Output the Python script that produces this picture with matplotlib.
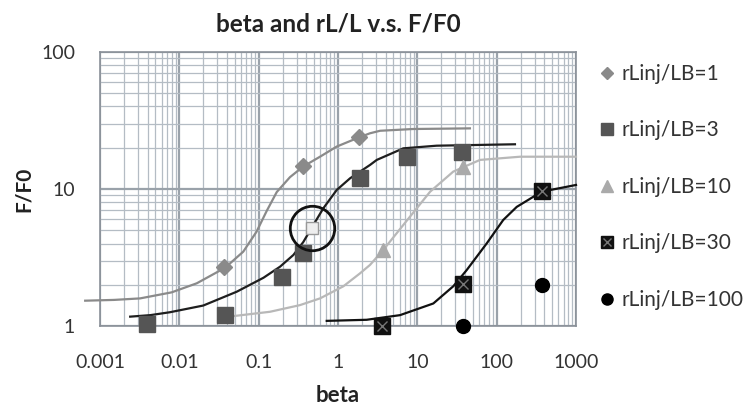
import matplotlib
matplotlib.use('Agg')
import matplotlib.pyplot as plt
from matplotlib.legend_handler import HandlerTuple

plt.rcParams['font.family'] = ['Lato', 'DejaVu Sans']

# trendlines
c1_x = [0.00065, 0.0015, 0.0032, 0.008, 0.0166, 0.0377, 0.064, 0.094, 0.126, 0.169, 0.248, 0.365, 0.593, 0.964, 1.84, 2.53, 3.39, 8.8, 46]
c1_y = [1.53, 1.55, 1.59, 1.76, 2.05, 2.66, 3.49, 4.88, 6.9, 9.5, 12.2, 14.6, 17.2, 20.4, 23.8, 25.5, 26.6, 27.4, 27.7]
c2_x = [0.0024, 0.0043, 0.0076, 0.020, 0.053, 0.115, 0.186, 0.274, 0.365, 0.489, 0.653, 0.964, 1.42, 2.53, 3.08, 6.65, 17.5, 170]
c2_y = [1.17, 1.20, 1.26, 1.41, 1.78, 2.25, 2.71, 3.30, 4.10, 5.46, 7.23, 9.84, 11.97, 14.97, 16.3, 19.8, 20.7, 21.2]
c3_x = [0.037, 0.139, 0.331, 0.593, 1.17, 1.89, 2.53, 3.72, 6.65, 14.5, 28.4, 61.7, 197, 1000]
c3_y = [1.16, 1.27, 1.42, 1.59, 1.95, 2.42, 2.79, 3.59, 5.46, 9.56, 13.4, 16.3, 17.2, 17.2]
c4_x = [0.721, 2.30, 6.05, 15.9, 28.4, 41.9, 75, 121, 179, 370, 1000]
c4_y = [1.09, 1.11, 1.20, 1.46, 1.95, 2.56, 4.01, 5.94, 7.4, 9.56, 10.7]

# measured points
s1_x = [0.037, 0.366, 1.84]
s1_y = [2.68, 14.7, 24.1]
s2_x = [0.0039, 0.038, 0.195, 0.365, 1.89, 7.35, 36.3]
s2_y = [1.03, 1.20, 2.29, 3.39, 11.97, 17.2, 18.5]
s3_x = [3.72, 37.3]
s3_y = [3.59, 14.5]
s4_x = [3.56, 37.3, 370]
s4_y = [1.0, 2.01, 9.67]
s5_x = [37.3, 370]
s5_y = [1.0, 2.0]
hollow_x = [0.467]
hollow_y = [5.17]

labels = ['rLinj/LB=1', 'rLinj/LB=3', 'rLinj/LB=10', 'rLinj/LB=30', 'rLinj/LB=100']

fig = plt.figure(figsize=(7.56, 4.08), dpi=100)
ax = fig.add_axes([0.1323, 0.201, 0.6296, 0.6716])
ax.set_xscale('log')
ax.set_yscale('log')
ax.set_xlim(0.001, 1000)
ax.set_ylim(1, 100)

ax.grid(True, which='major', color='#9aa2aa', lw=1.6)
ax.grid(True, which='minor', color='#b4bcc4', lw=0.9)
ax.set_axisbelow(True)
for sp in ax.spines.values():
    sp.set_color('#8a9098')
    sp.set_linewidth(1.2)

ax.plot(c1_x, c1_y, color='#8a8a8a', lw=1.6, clip_on=False, zorder=3)
ax.plot(c2_x, c2_y, color='#1e1e1e', lw=1.6, clip_on=False, zorder=3)
ax.plot(c3_x, c3_y, color='#b8b8b8', lw=1.6, clip_on=False, zorder=3)
ax.plot(c4_x, c4_y, color='#111111', lw=1.6, clip_on=False, zorder=3)

h1, = ax.plot(s1_x, s1_y, 'D', color='#8a8a8a', ms=8, ls='none', clip_on=False, zorder=4)
h2, = ax.plot(s2_x, s2_y, 's', color='#555555', ms=11, ls='none', clip_on=False, zorder=4)
h3, = ax.plot(s3_x, s3_y, '^', color='#aaaaaa', ms=10, ls='none', clip_on=False, zorder=4)
h4, = ax.plot(s4_x, s4_y, 's', color='#111111', ms=11, ls='none', clip_on=False, zorder=4)
h4x, = ax.plot(s4_x, s4_y, 'x', color='#777777', ms=7, mew=1, ls='none', clip_on=False, zorder=5)
h5, = ax.plot(s5_x, s5_y, 'o', color='#000000', ms=10, ls='none', clip_on=False, zorder=4)

# highlighted point with ring
ax.plot(hollow_x, hollow_y, 's', mfc='#eeeeee', mec='#999999', mew=1, ms=9, zorder=4)
ax.plot(hollow_x, hollow_y, 'o', mfc='none', mec='#111111', mew=2, ms=32, zorder=5)

ax.set_xticks([0.001, 0.01, 0.1, 1, 10, 100, 1000])
ax.set_xticklabels(['0.001', '0.01', '0.1', '1', '10', '100', '1000'])
ax.set_yticks([1, 10, 100])
ax.set_yticklabels(['1', '10', '100'])
ax.tick_params(which='both', length=0, labelsize=14, labelcolor='#333333')
ax.tick_params(axis='x', pad=20)
ax.tick_params(axis='y', pad=18)

ax.set_title('beta and rL/L v.s. F/F0', fontsize=17.5, fontweight='bold', color='#222222', pad=15)
ax.set_xlabel('beta', fontsize=16, fontweight='bold', color='#222222', labelpad=10)
ax.set_ylabel('F/F0', fontsize=15, fontweight='bold', color='#222222', labelpad=5)

leg = ax.legend([h1, h2, h3, (h4, h4x), h5], labels,
                handler_map={tuple: HandlerTuple(ndivide=1)},
                loc='upper left', bbox_to_anchor=(1.048, 0.956), frameon=False,
                fontsize=15, labelspacing=1.75, handlelength=0.8, handletextpad=0.3,
                markerscale=0.8, borderaxespad=0, borderpad=0)
for t in leg.get_texts():
    t.set_color('#333333')

fig.savefig('out.png', dpi=100)
